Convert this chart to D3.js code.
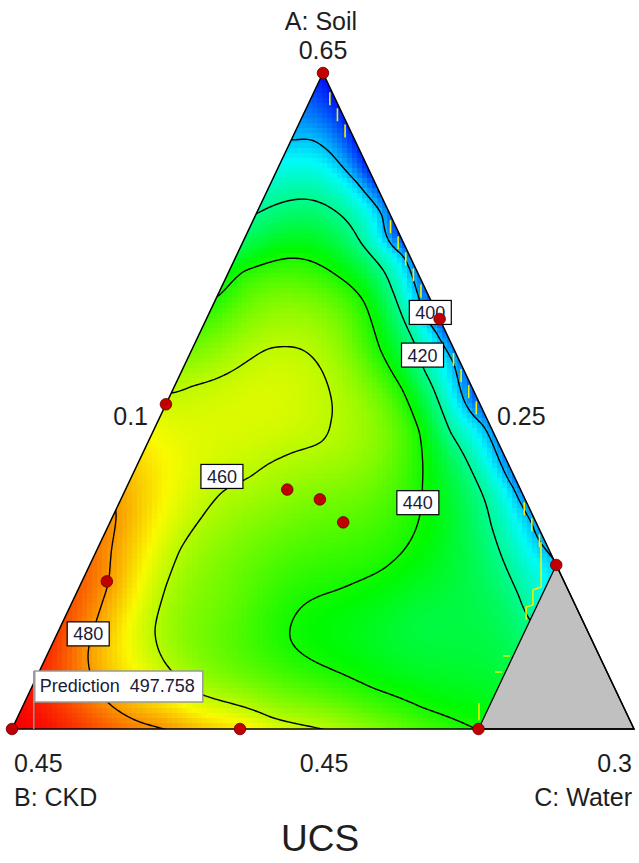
<!DOCTYPE html>
<html>
<head>
<meta charset="utf-8">
<script src="https://cdn.jsdelivr.net/npm/d3@7"></script>
<style>
  body { margin: 0; background: #fff; }
  text { font-family: "Liberation Sans", Arial, sans-serif; }
</style>
</head>
<body>
<svg id="chart" width="639" height="863"></svg>
<script>
// ---- Mixture space (actual fractions, Soil + CKD + Water = 1) ----
const soilDomain = [0.45, 0.65];
const ckdDomain = [0.25, 0.45];
const waterDomain = [0.10, 0.30];
const waterCap = 0.25;               // water above this is outside the design space

const vertexNames = ["A: Soil", "B: CKD", "C: Water"];
const vertexValues = ["0.65", "0.45", "0.3"];
const sideValues = ["0.45", "0.25", "0.1"];   // low bounds of A, B, C on the opposite sides

const contourLevels = [400, 420, 440, 460, 480];

// UCS iso-lines traced as [soil, water] compositions
const ucs400 = [[0.630,0.100],[0.630,0.106],[0.626,0.114],[0.617,0.127],[0.607,0.140],[0.595,0.1525],
  [0.583,0.1635],[0.572,0.1745],[0.562,0.1855],[0.543,0.2045],[0.524,0.2238],[0.513,0.2352],[0.505,0.2438],[0.5015,0.2485]];
const ucs420 = [[0.608,0.100],[0.612,0.111],[0.609,0.123],[0.599,0.137],[0.585,0.154],[0.572,0.166],
  [0.560,0.177],[0.541,0.195],[0.513,0.222],[0.491,0.242],[0.483,0.250]];
const ucs440 = [[0.583,0.100],[0.590,0.104],[0.594,0.117],[0.589,0.134],[0.581,0.147],[0.566,0.160],
  [0.554,0.173],[0.541,0.185],[0.525,0.194],[0.515,0.198],[0.505,0.198],[0.499,0.194],[0.493,0.183],
  [0.488,0.174],[0.483,0.173],[0.478,0.175],[0.474,0.180],[0.470,0.189],[0.463,0.209],[0.457,0.228],
  [0.451,0.247],[0.450,0.250]];
const ucs460 = [[0.553,0.100],[0.555,0.105],[0.560,0.116],[0.566,0.123],[0.567,0.129],[0.566,0.135],
  [0.560,0.144],[0.552,0.151],[0.544,0.155],[0.538,0.155],[0.535,0.148],[0.531,0.141],[0.527,0.137],
  [0.523,0.131],[0.515,0.128],[0.505,0.126],[0.494,0.127],[0.481,0.130],[0.475,0.134],[0.468,0.142],
  [0.461,0.155],[0.458,0.167],[0.454,0.181],[0.450,0.201]];
const ucs480 = [[0.516,0.100],[0.505,0.104],[0.495,0.108],[0.483,0.110],[0.474,0.112],[0.465,0.118],
  [0.458,0.127],[0.453,0.138],[0.450,0.150]];

// Spot UCS readings [soil, water, UCS]
const ucsSpots = [
  [0.650,0.100,378],[0.640,0.100,390],[0.595,0.100,430],[0.568,0.100,450],[0.535,0.100,470],
  [0.500,0.100,485],[0.475,0.100,492],[0.460,0.100,496],[0.450,0.100,499],
  [0.640,0.110,380],[0.620,0.130,382],[0.600,0.150,384],[0.575,0.175,386],[0.550,0.200,388],
  [0.525,0.225,392],[0.510,0.240,396],
  [0.500,0.250,401],[0.490,0.250,411],[0.465,0.250,431],
  [0.450,0.125,490],[0.450,0.175,470],[0.450,0.225,450],
  [0.547,0.133,464],[0.520,0.164,452],[0.488,0.150,450],[0.483,0.215,430]
];

const prediction = [0.450, 0.107, 497.758];

const designPoints = [[0.650,0.100],[0.549,0.100],[0.495,0.108],[0.450,0.100],[0.450,0.1733],
  [0.450,0.250],[0.500,0.250],[0.575,0.175],[0.523,0.152],[0.520,0.164],[0.513,0.175]];

const labelSpots = [[400,0.577,0.171],[420,0.564,0.175],[440,0.519,0.196],[460,0.527,0.129],[480,0.479,0.110]];

// soil spans of the yellow flag marks close to the CKD-low side
const flagSpans = [[0.642,0.628],[0.603,0.583],[0.5625,0.543],[0.517,0.5035]];
// yellow flag strokes along the water cap, as [soil, water] polylines
const flagStrokes = [
  [[0.507,0.2416],[0.4933,0.2485],[0.4924,0.2463],[0.4878,0.2486],[0.4872,0.2467],[0.4832,0.2487]],
  [[0.4723,0.2468],[0.4723,0.2490]],
  [[0.4674,0.2466],[0.4674,0.2489]],
  [[0.4579,0.2462],[0.4527,0.2488]]
];

// ---- Geometry ----
const W = 639, H = 863;
const soilFrac = d3.scaleLinear().domain(soilDomain).range([0, 1]);
const waterFrac = d3.scaleLinear().domain(waterDomain).range([0, 1]);
const xPos = d3.scaleLinear().domain([0, 1]).range([12, 634]);
const yPos = d3.scaleLinear().domain(soilDomain).range([729, 73]);
function project(soil, water) {
  const a = soilFrac(soil), c = waterFrac(water);
  return [xPos(c + a / 2), yPos(soil)];
}
const vA = project(soilDomain[1], waterDomain[0]);
const vB = project(soilDomain[0], waterDomain[0]);
const vC = project(soilDomain[0], waterDomain[1]);
const capTop = project(1 - ckdDomain[0] - waterCap, waterCap);
const capLeft = project(soilDomain[0], waterCap);

// ---- Smooth response surface through the readings (thin-plate spline) ----
function thinPlate(pts, lambda) {
  const n = pts.length, m = n + 3, S = 100;
  const P = pts.map(p => [p[0] / S, p[1] / S, p[2]]);
  const kern = (dx, dy) => { const r2 = dx * dx + dy * dy; return r2 > 1e-12 ? 0.5 * r2 * Math.log(r2) : 0; };
  const M = Array.from({length: m}, () => new Float64Array(m + 1));
  for (let i = 0; i < n; i++) {
    for (let j = 0; j < n; j++) M[i][j] = kern(P[i][0] - P[j][0], P[i][1] - P[j][1]) + (i === j ? lambda : 0);
    M[i][n] = 1; M[i][n + 1] = P[i][0]; M[i][n + 2] = P[i][1];
    M[n][i] = 1; M[n + 1][i] = P[i][0]; M[n + 2][i] = P[i][1];
    M[i][m] = P[i][2];
  }
  for (let k = 0; k < m; k++) {
    let piv = k;
    for (let r = k + 1; r < m; r++) if (Math.abs(M[r][k]) > Math.abs(M[piv][k])) piv = r;
    const t = M[k]; M[k] = M[piv]; M[piv] = t;
    const d = M[k][k];
    for (let r = k + 1; r < m; r++) {
      const f = M[r][k] / d;
      if (f !== 0) for (let c = k; c <= m; c++) M[r][c] -= f * M[k][c];
    }
  }
  const sol = new Float64Array(m);
  for (let k = m - 1; k >= 0; k--) {
    let s = M[k][m];
    for (let c = k + 1; c < m; c++) s -= M[k][c] * sol[c];
    sol[k] = s / M[k][k];
  }
  return (x, y) => {
    x /= S; y /= S;
    let v = sol[n] + sol[n + 1] * x + sol[n + 2] * y;
    for (let i = 0; i < n; i++) v += sol[i] * kern(x - P[i][0], y - P[i][1]);
    return v;
  };
}

const samples = [];
[[400, ucs400], [420, ucs420], [440, ucs440], [460, ucs460], [480, ucs480]].forEach(([lvl, pts]) =>
  pts.forEach(([s, w]) => samples.push([...project(s, w), lvl])));
ucsSpots.forEach(([s, w, v]) => samples.push([...project(s, w), v]));
samples.push([...project(prediction[0], prediction[1]), prediction[2]]);
const surface = thinPlate(samples, 0.002);

// ---- Colour ----
const hue = d3.scaleLinear().domain([377, 498]).range([240, 0]).clamp(true);
const colorOf = v => d3.hsl(hue(v), 1, 0.49).formatRgb();

// ---- Draw ----
const svg = d3.select("#chart");
const defs = svg.append("defs");
const triPts = [vA, vB, vC];
defs.append("clipPath").attr("id", "tri")
  .append("polygon").attr("points", triPts.map(p => p.join(",")).join(" "));

// shaded blocks
const cell = 5;
const cells = [];
for (let y = vA[1]; y < vB[1]; y += cell)
  for (let x = vB[0]; x < vC[0]; x += cell) {
    const cy = y + cell / 2, t = (cy - vA[1]) / (vB[1] - vA[1]);
    const xl = vA[0] + (vB[0] - vA[0]) * t - cell, xr = vA[0] + (vC[0] - vA[0]) * t + cell;
    if (x + cell < xl || x > xr) continue;
    cells.push({x, y, v: surface(x + cell / 2, cy)});
  }
svg.append("g").attr("clip-path", "url(#tri)")
  .selectAll("rect").data(cells).join("rect")
  .attr("x", d => d.x).attr("y", d => d.y)
  .attr("width", cell + 0.4).attr("height", cell + 0.4)
  .attr("fill", d => colorOf(d.v));

// contour lines
const step = 3, gx0 = -12, gy0 = 55;
const nx = Math.ceil((W + 24) / step) + 1, ny = Math.ceil((750 - gy0) / step) + 1;
const grid = new Float64Array(nx * ny);
for (let j = 0; j < ny; j++)
  for (let i = 0; i < nx; i++) grid[j * nx + i] = surface(gx0 + i * step, gy0 + j * step);
const iso = d3.contours().size([nx, ny]).thresholds(contourLevels)(grid);
const toPx = d3.geoTransform({ point(x, y) { this.stream.point(gx0 + x * step, gy0 + y * step); } });
svg.append("g").attr("clip-path", "url(#tri)")
  .selectAll("path").data(iso).join("path")
  .attr("d", d3.geoPath(toPx))
  .attr("fill", "none").attr("stroke", "#000").attr("stroke-width", 1.4);

// yellow flag marks
const flagMarks = [];
flagSpans.forEach(([s0, s1]) => {
  for (let s = s0; s >= s1; s -= 0.0049) flagMarks.push(project(s, 1 - s - 0.2518));
});
const flagG = svg.append("g").attr("stroke", "#f0f000").attr("stroke-width", 1.6).attr("fill", "none");
flagG.selectAll("line").data(flagMarks).join("line")
  .attr("x1", d => d[0]).attr("x2", d => d[0])
  .attr("y1", d => d[1] - 7).attr("y2", d => d[1] + 6);
flagG.selectAll("path").data(flagStrokes).join("path")
  .attr("d", d => d3.line()(d.map(([s, w]) => project(s, w))));

// excluded region (water above cap)
svg.append("polygon")
  .attr("points", [capTop, capLeft, vC].map(p => p.join(",")).join(" "))
  .attr("fill", "#c0c0c0").attr("stroke", "#000").attr("stroke-width", 1.3);

// triangle outline
svg.append("polygon")
  .attr("points", triPts.map(p => p.join(",")).join(" "))
  .attr("fill", "none").attr("stroke", "#000").attr("stroke-width", 1.5);

// contour labels
const lab = svg.append("g").selectAll("g").data(labelSpots).join("g")
  .attr("transform", d => { const p = project(d[1], d[2]); return `translate(${p[0]},${p[1]})`; });
lab.append("rect").attr("x", -21).attr("y", -12).attr("width", 42).attr("height", 24)
  .attr("fill", "#fff").attr("stroke", "#000").attr("stroke-width", 1.2);
lab.append("text").attr("text-anchor", "middle").attr("y", 6.5)
  .attr("font-size", 18).attr("fill", "#1a1a3a").text(d => d[0]);

// design points
svg.append("g").selectAll("circle").data(designPoints).join("circle")
  .attr("cx", d => project(d[0], d[1])[0]).attr("cy", d => project(d[0], d[1])[1])
  .attr("r", 5.8).attr("fill", "#c00000").attr("stroke", "#600").attr("stroke-width", 0.8);

// prediction flag
const pp = project(prediction[0], prediction[1]);
const flag = svg.append("g");
flag.append("line").attr("x1", pp[0]).attr("x2", pp[0]).attr("y1", pp[1]).attr("y2", pp[1] - 58)
  .attr("stroke", "#999").attr("stroke-width", 1.5);
flag.append("rect").attr("x", pp[0] + 1).attr("y", pp[1] - 58).attr("width", 168).attr("height", 31)
  .attr("fill", "#fff").attr("stroke", "#999").attr("stroke-width", 1.5);
flag.append("text").attr("x", pp[0] + 6).attr("y", pp[1] - 37).attr("font-size", 18)
  .attr("fill", "#1a1a3a").attr("xml:space", "preserve")
  .text(`Prediction  ${prediction[2].toFixed(3)}`);

// axis texts
const txt = svg.append("g").attr("fill", "#1e1e1e").attr("font-size", 25);
txt.append("text").attr("x", vA[0] - 2).attr("y", 30).attr("text-anchor", "middle").text(vertexNames[0]);
txt.append("text").attr("x", vA[0]).attr("y", 59).attr("text-anchor", "middle").text(vertexValues[0]);
txt.append("text").attr("x", vB[0] + 2).attr("y", 772).attr("text-anchor", "start").text(vertexValues[1]);
txt.append("text").attr("x", vB[0] + 2).attr("y", 806).attr("text-anchor", "start").text(vertexNames[1]);
txt.append("text").attr("x", vC[0] - 2).attr("y", 772).attr("text-anchor", "end").text(vertexValues[2]);
txt.append("text").attr("x", vC[0] - 2).attr("y", 806).attr("text-anchor", "end").text(vertexNames[2]);
txt.append("text").attr("x", (vB[0] + vC[0]) / 2 + 1).attr("y", 772).attr("text-anchor", "middle").text(sideValues[0]);
txt.append("text").attr("x", 148).attr("y", 425).attr("text-anchor", "end").text(sideValues[2]);
txt.append("text").attr("x", 497).attr("y", 425).attr("text-anchor", "start").text(sideValues[1]);
svg.append("text").attr("x", 320).attr("y", 851).attr("text-anchor", "middle")
  .attr("font-size", 37).attr("fill", "#1e1e1e").text("UCS");
</script>
</body>
</html>
